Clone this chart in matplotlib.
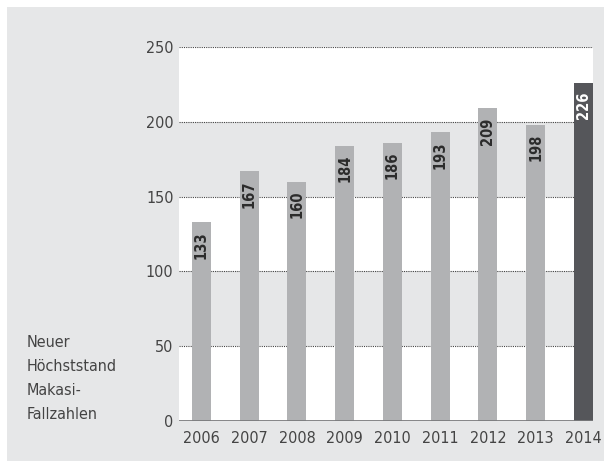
import matplotlib.pyplot as plt
from matplotlib.patches import Rectangle

# Daten
jahre = ['2006', '2007', '2008', '2009', '2010', '2011', '2012', '2013', '2014']
fallzahlen = [133, 167, 160, 184, 186, 193, 209, 198, 226]
yticks = [0, 50, 100, 150, 200, 250]

hell = '#b1b2b4'
dunkel = '#55565a'
panel = '#e6e7e8'
schrift = ['DejaVu Sans']

fig = plt.figure(figsize=(6.11, 4.71), dpi=100)
fig.patch.set_facecolor('white')
# grauer Hintergrund
fig.patches.append(Rectangle((7 / 611, 10 / 471), 597 / 611, 454 / 471,
                             transform=fig.transFigure, facecolor=panel,
                             edgecolor='none', zorder=-5))

ax = fig.add_axes([179 / 611, 50 / 471, 414 / 611, 374 / 471])
ax.set_facecolor('none')
ax.set_xlim(-0.47, 8.2)
ax.set_ylim(0, 250)

# weisse Baender: 0-50, 100-150, 200-250
for unten in yticks[:-1:2]:
    ax.axhspan(unten, unten + 50, color='white', zorder=0, lw=0)
for y in yticks[1:]:
    ax.axhline(y, color='#444444', lw=0.8, ls=(0, (1, 1)), zorder=1)
ax.axhline(0, color='#7a7a7c', lw=2, zorder=3)

farben = [hell] * (len(jahre) - 1) + [dunkel]
x = range(len(jahre))
ax.bar(x, fallzahlen, width=0.4, color=farben, zorder=2)

for i, v in enumerate(fallzahlen):
    c = 'white' if i == len(jahre) - 1 else '#2b2b2b'
    ax.text(i, v - 6, str(v), rotation=90, ha='center', va='top',
            fontsize=10.5, fontweight='bold', color=c, family=['DejaVu Sans'],
            stretch='condensed', zorder=4)

ax.set_xticks(list(x))
ax.set_xticklabels(jahre)
ax.set_yticks(yticks)
ax.tick_params(length=0, labelsize=11.5, labelcolor='#444444')
ax.tick_params(axis='y', pad=4)
ax.tick_params(axis='x', pad=7)
for lab in ax.get_xticklabels() + ax.get_yticklabels():
    lab.set_family(schrift)
    lab.set_stretch('condensed')
for s in ax.spines.values():
    s.set_visible(False)

fig.text(27 / 611, 1 - 335 / 471, 'Neuer\nHöchststand\nMakasi-\nFallzahlen',
         ha='left', va='top', fontsize=11.5, color='#444444',
         linespacing=1.75, family=schrift, stretch='condensed')

fig.savefig('out.png', dpi=100)
